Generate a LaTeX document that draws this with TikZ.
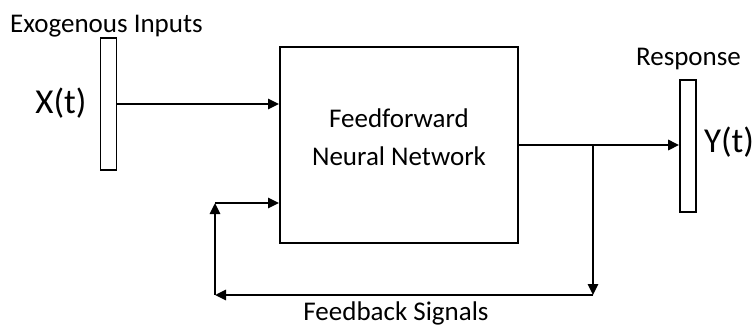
\documentclass[tikz,border=0pt]{standalone}
\usepackage{fontspec}
\setmainfont{Carlito}
\usetikzlibrary{arrows.meta}

\begin{document}
\begin{tikzpicture}[x=1pt,y=-1pt,
    bar/.style={draw,line width=1.6pt,minimum width=16pt,minimum height=132pt,inner sep=0pt},
    txt/.style={font=\fontsize{27}{38}\selectfont,inner sep=0pt,anchor=base},
    big/.style={font=\fontsize{35}{40}\selectfont,inner sep=0pt,anchor=base},
    sig/.style={line width=2.6pt,-{Triangle[length=11pt,width=10pt]}}]
  \useasboundingbox (0,0) rectangle (753,327);
  % bars and block
  \node[bar] (inbar) at (108.5,104) {};
  \node[bar] (outbar) at (688,146) {};
  \node[draw,line width=1.9pt,minimum width=238pt,minimum height=196pt,inner sep=0pt] (ffnn) at (399,145) {};
  % texts
  \node[txt] (exo) at (106.5,32) {Exogenous Inputs};
  \node[big] (xt) at (61,113) {X(t)};
  \node[txt] (resp) at (688.5,65) {Response};
  \node[big] (yt) at (729,152) {Y(t)};
  \node[txt] (ff) at (399,127) {Feedforward};
  \node[txt] (nn) at (399,165) {Neural Network};
  \node[txt] (fb) at (396,320) {Feedback Signals};
  % feedback path
  \coordinate (split) at (593,145);
  \coordinate (low) at (593,295);
  \coordinate (back) at (215,295);
  \coordinate (up) at (215,203);
  \draw[sig] (inbar.east) -- (ffnn.west |- inbar.east);
  \draw[sig] (ffnn.east) -- (outbar.west |- ffnn.east);
  \draw[sig] (split) -- (low);
  \draw[sig] (low) -- (back);
  \draw[sig] (back) -- (up);
  \draw[sig] (up) -- (ffnn.west |- up);
\end{tikzpicture}
\end{document}
